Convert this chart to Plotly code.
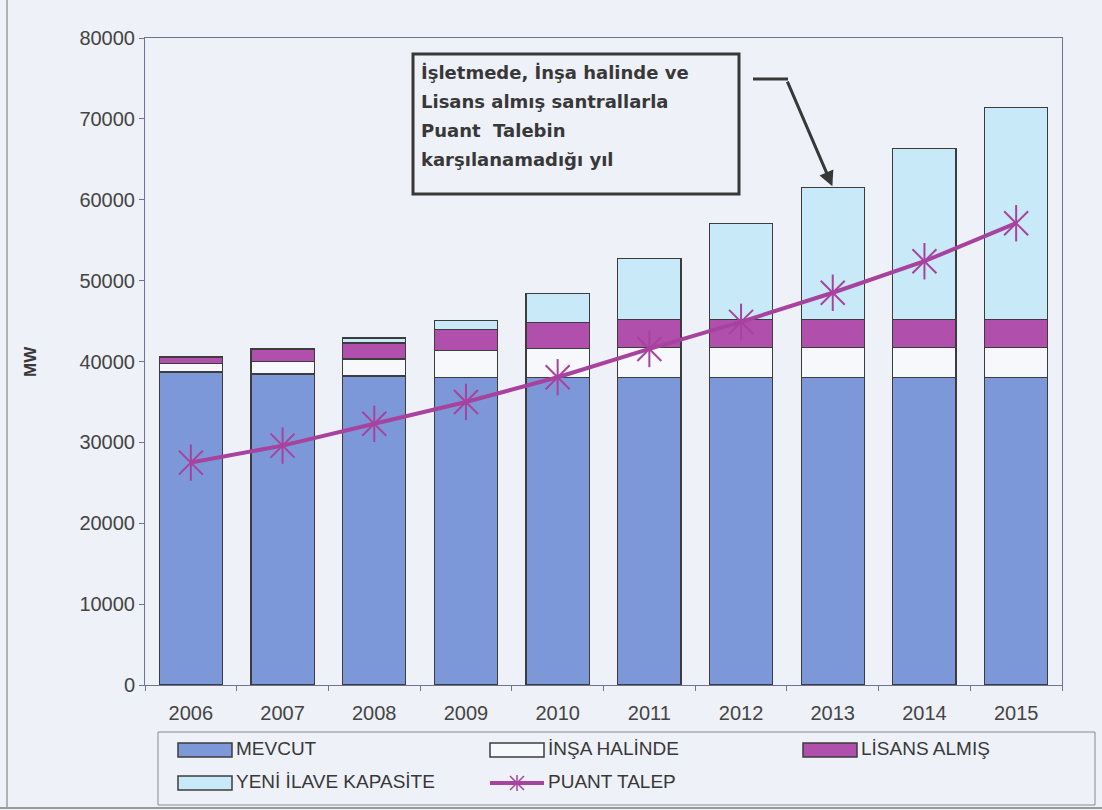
import plotly.graph_objects as go

# Installed capacity and peak demand projection (MW)
years = ["2006", "2007", "2008", "2009", "2010", "2011", "2012", "2013", "2014", "2015"]
mevcut = [38700, 38450, 38200, 38050, 38050, 38050, 38050, 38050, 38050, 38050]
insa_halinde = [1100, 1600, 2100, 3300, 3600, 3700, 3700, 3700, 3700, 3700]
lisans_almis = [750, 1500, 2000, 2650, 3200, 3450, 3450, 3450, 3450, 3450]
yeni_ilave = [0, 0, 600, 1100, 3600, 7550, 11900, 16350, 21150, 26250]
puant_talep = [27500, 29600, 32300, 35000, 38050, 41550, 44900, 48500, 52400, 57100]

y_ticks = [0, 10000, 20000, 30000, 40000, 50000, 60000, 70000, 80000]

series_names = ["MEVCUT", "İNŞA HALİNDE", "LİSANS ALMIŞ", "YENİ İLAVE KAPASİTE", "PUANT TALEP"]
note_lines = ["İşletmede, İnşa halinde ve", "Lisans almış santrallarla",
              "Puant  Talebin", "karşılanamadığı yıl"]
note_year = "2013"

C_MEVCUT = "#7d98d8"
C_INSA = "#f7f8fc"
C_LISANS = "#b04fac"
C_YENI = "#c8eaf8"
C_LINE = "#a8429f"
EDGE = "#3c3c3c"
BG = "#eff1f8"
TXT = "#383838"
AXIS = "#6e7398"

FIG_W, FIG_H = 1102, 810
L, T, R, B = 145, 38, 40, 125
PW, PH = FIG_W - L - R, FIG_H - T - B


def px(x):
    return (x - L) / PW


def py(y):
    return (T + PH - y) / PH


fig = go.Figure()

for vals, name, color in [(mevcut, series_names[0], C_MEVCUT),
                          (insa_halinde, series_names[1], C_INSA),
                          (lisans_almis, series_names[2], C_LISANS),
                          (yeni_ilave, series_names[3], C_YENI)]:
    fig.add_trace(go.Bar(x=years, y=vals, name=name, showlegend=False,
                         marker=dict(color=color, line=dict(color=EDGE, width=1.2))))

fig.add_trace(go.Scatter(x=years, y=puant_talep, name=series_names[4], mode="lines+markers",
                         showlegend=False, line=dict(color=C_LINE, width=4),
                         marker=dict(symbol="x-thin-open", size=24,
                                     line=dict(color=C_LINE, width=2), color=C_LINE)))
fig.add_trace(go.Scatter(x=years, y=puant_talep, mode="markers", showlegend=False,
                         hoverinfo="skip",
                         marker=dict(symbol="line-ns-open", size=26,
                                     line=dict(color=C_LINE, width=2), color=C_LINE)))

shapes = []
annotations = []

# Note box with the callout arrow
shapes.append(dict(type="rect", xref="paper", yref="paper",
                   x0=px(413), x1=px(739), y0=py(194), y1=py(54),
                   line=dict(color=TXT, width=3), fillcolor="rgba(0,0,0,0)"))
for i, line in enumerate(note_lines):
    annotations.append(dict(xref="paper", yref="paper", x=px(419), y=py(72 + i * 29.3),
                            xanchor="left", yanchor="middle", showarrow=False,
                            text="<b>" + line + "</b>",
                            font=dict(family="DejaVu Sans, Arial", size=18, color=TXT)))
shapes.append(dict(type="line", xref="paper", yref="paper",
                   x0=px(753), x1=px(788), y0=py(79), y1=py(79),
                   line=dict(color=TXT, width=3)))
k = years.index(note_year)
total_k = mevcut[k] + insa_halinde[k] + lisans_almis[k] + yeni_ilave[k]
annotations.append(dict(x=k, y=total_k, xref="x", yref="y", text="",
                        showarrow=True, arrowhead=2, arrowsize=1.0, arrowwidth=3,
                        arrowcolor=TXT, ax=-46, ay=-107, standoff=1))

# Y axis title
annotations.append(dict(xref="paper", yref="paper", x=px(30), y=py(362), text="<b>MW</b>",
                        textangle=-90, showarrow=False, xanchor="center", yanchor="middle",
                        font=dict(family="Liberation Sans, Arial", size=17, color=TXT)))

# Legend panel
shapes.append(dict(type="rect", xref="paper", yref="paper",
                   x0=px(158), x1=px(1095), y0=py(805), y1=py(732),
                   line=dict(color="#8a8a8a", width=1), fillcolor="rgba(0,0,0,0)"))
legend_items = [
    (series_names[0], C_MEVCUT, 178, 750, "bar"),
    (series_names[1], C_INSA, 490, 750, "bar"),
    (series_names[2], C_LISANS, 803, 750, "bar"),
    (series_names[3], C_YENI, 178, 783, "bar"),
    (series_names[4], C_LINE, 490, 783, "line"),
]
for name, color, x0, yc, kind in legend_items:
    if kind == "bar":
        shapes.append(dict(type="rect", xref="paper", yref="paper",
                           x0=px(x0), x1=px(x0 + 54), y0=py(yc + 7), y1=py(yc - 7),
                           line=dict(color=EDGE, width=1.5), fillcolor=color))
    else:
        shapes.append(dict(type="line", xref="paper", yref="paper",
                           x0=px(x0), x1=px(x0 + 54), y0=py(yc), y1=py(yc),
                           line=dict(color=color, width=4)))
        cx = x0 + 27
        for dx0, dy0, dx1, dy1 in [(0, -8, 0, 8), (-7, -7, 7, 7), (-7, 7, 7, -7)]:
            shapes.append(dict(type="line", xref="paper", yref="paper",
                               x0=px(cx + dx0), y0=py(yc + dy0),
                               x1=px(cx + dx1), y1=py(yc + dy1),
                               line=dict(color=color, width=1.5)))
    annotations.append(dict(xref="paper", yref="paper", x=px(x0 + 56), y=py(yc - 2),
                            xanchor="left", yanchor="middle", showarrow=False, text=name,
                            font=dict(family="Liberation Sans, Arial", size=19, color=TXT)))

# Page frame edges
shapes.append(dict(type="line", xref="paper", yref="paper", x0=px(7), x1=px(7),
                   y0=py(0), y1=py(808), line=dict(color="#9a9a9a", width=1.5)))
shapes.append(dict(type="line", xref="paper", yref="paper", x0=px(0), x1=px(1102),
                   y0=py(808), y1=py(808), line=dict(color="#9a9a9a", width=2)))

fig.update_layout(
    width=FIG_W, height=FIG_H,
    margin=dict(l=L, r=R, t=T, b=B),
    barmode="stack", bargap=0.31,
    paper_bgcolor=BG, plot_bgcolor=BG,
    font=dict(family="Liberation Sans, Arial", color=TXT),
    shapes=shapes, annotations=annotations,
    showlegend=False,
)
fig.update_xaxes(type="category", range=[-0.5, len(years) - 0.5],
                 showline=True, linecolor=AXIS, linewidth=1,
                 mirror=True, ticks="outside", tickson="boundaries", ticklen=5,
                 tickcolor=AXIS, showgrid=False, ticklabelstandoff=10,
                 tickfont=dict(size=20, color="#444444", family="Liberation Sans, Arial"))
fig.update_yaxes(range=[0, 80000], tickvals=y_ticks, showline=True, linecolor=AXIS,
                 linewidth=1, mirror=True, ticks="outside", ticklen=5, tickcolor=AXIS,
                 showgrid=False, zeroline=False, tickformat="d",
                 tickfont=dict(size=20, color="#444444", family="Liberation Sans, Arial"))

fig.write_html("out.html")
